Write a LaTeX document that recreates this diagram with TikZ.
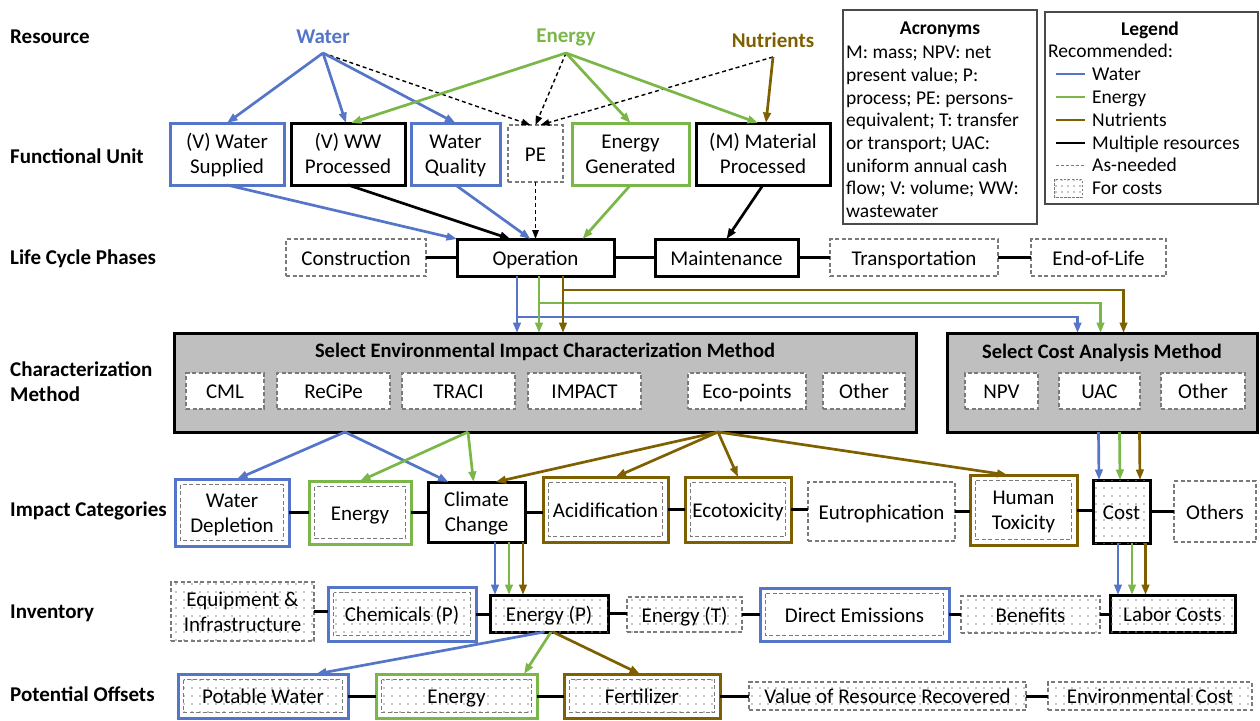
\documentclass[tikz,border=0pt]{standalone}
\usepackage{fontspec}
\setmainfont{Carlito}
\usetikzlibrary{arrows.meta,patterns.meta}

\definecolor{cblue}{HTML}{5575C8}
\definecolor{cgreen}{HTML}{7AB648}
\definecolor{cbrown}{HTML}{7F6000}
\definecolor{cgrayfill}{HTML}{BFBFBF}
\definecolor{cdash}{HTML}{7A7A7A}
\definecolor{cdot}{HTML}{8C8C8C}
\definecolor{cframe}{HTML}{4A4A4A}

% box from its corners: name, x1, y1, x2, y2, style, text
\newcommand\putbox[7]{%
  \node[#6, minimum width={#4-#2}, minimum height={#5-#3}] (#1)
    at ({(#2+#4)/2},{(#3+#5)/2}) {#7};}
% two-line box text with fixed line heights
\newcommand\twolines[2]{\rule{0pt}{20pt}#1\\#2\rule[-6pt]{0pt}{6pt}}

\begin{document}
\begin{tikzpicture}[x=1pt, y=-1pt,
  base/.style={rectangle, fill=white, align=center, inner sep=1pt, outer sep=0pt,
    font=\fontsize{21}{25}\selectfont},
  sl/.style={text height=17pt, text depth=2pt},
  thickbox/.style={base, draw, line width=3pt},
  bbox/.style={thickbox, draw=cblue},
  gbox/.style={thickbox, draw=cgreen},
  nbox/.style={thickbox, draw=cbrown},
  kbox/.style={thickbox, draw=black},
  dbox/.style={base, draw=cdash, line width=1.4pt, dash pattern=on 4pt off 2.5pt},
  mbox/.style={base, draw=black, line width=3pt, fill=cgrayfill},
  dots/.style={postaction={pattern={Dots[distance=8pt,radius=0.95pt]}, pattern color=cdot}},
  inset/.style={path picture={\draw[cdash, line width=1.4pt, dash pattern=on 4pt off 2.5pt]
    ([shift={(5.5,5.5)}]path picture bounding box.north west) rectangle
    ([shift={(-5.5,-5.5)}]path picture bounding box.south east);}},
  insetdots/.style={path picture={\draw[cdash, line width=1.4pt, dash pattern=on 4pt off 2.5pt,
    pattern={Dots[distance=8pt,radius=0.95pt]}, pattern color=cdot]
    ([shift={(5.5,5.5)}]path picture bounding box.north west) rectangle
    ([shift={(-5.5,-5.5)}]path picture bounding box.south east);}},
  frame/.style={rectangle, draw=cframe, line width=1.7pt, fill=white, inner sep=0pt, outer sep=0pt},
  rowlab/.style={anchor=west, align=left, inner sep=0pt, font=\bfseries\fontsize{21}{25}\selectfont},
  reslab/.style={inner sep=0pt, font=\bfseries\fontsize{21}{25}\selectfont},
  title/.style={inner sep=0pt, font=\bfseries\fontsize{20.5}{25}\selectfont},
  smalltitle/.style={inner sep=0pt, font=\bfseries\fontsize{19.5}{22.6}\selectfont},
  smalltext/.style={inner sep=0pt, align=left, font=\fontsize{19.5}{22.7}\selectfont},
  arr/.style={line width=2.7pt, -{Triangle[length=10.5pt,width=7.5pt]}},
  barr/.style={arr, draw=cblue},
  garr/.style={arr, draw=cgreen},
  narr/.style={arr, draw=cbrown},
  karr/.style={arr, draw=black},
  darr/.style={line width=1.4pt, dash pattern=on 4pt off 3pt, draw=black,
    -{Triangle[length=9pt,width=6.5pt]}},
  link/.style={line width=3pt, draw=black}
]
\useasboundingbox (0,0) rectangle (1260,720);

% ---------- row headings ----------
\node[rowlab] (hres) at (10,37) {Resource};
\node[rowlab] (hfu)  at (10,156) {Functional Unit};
\node[rowlab] (hlcp) at (10,259) {Life Cycle Phases};
\node[rowlab] (hcm)  at (10,382) {Characterization\\Method};
\node[rowlab] (hic)  at (10,511) {Impact Categories};
\node[rowlab] (hinv) at (10,613) {Inventory};
\node[rowlab] (hoff) at (10,694) {Potential Offsets};

% ---------- resources ----------
\node[reslab, text=cblue]  (rwat) at (323,37) {Water};
\node[reslab, text=cgreen] (rene) at (566,37) {Energy};
\node[reslab, text=cbrown] (rnut) at (773,40) {Nutrients};
\coordinate (swat) at (323,53);
\coordinate (sene) at (566,53);
\coordinate (snut) at (773,57);

% ---------- acronyms and legend ----------
\putbox{acr}{843}{10}{1037}{224}{frame}{}
\node[smalltitle] (acrt) at (940,30) {Acronyms};
\node[smalltext, anchor=north west] (acrb) at (846,46)
  {M: mass; NPV: net\\present value; P:\\process; PE: persons-\\equivalent; T: transfer\\or transport; UAC:\\uniform annual cash\\flow; V: volume; WW:\\wastewater};

\putbox{leg}{1045}{12}{1258}{204}{frame}{}
\node[smalltitle] (legt) at (1150,30) {Legend};
\node[smalltext, anchor=base west] (legr) at (1048,57) {Recommended:};
\draw[line width=2.7pt, cblue]  (1056,74) -- (1085,74);
\draw[line width=2.7pt, cgreen] (1056,97) -- (1085,97);
\draw[line width=2.7pt, cbrown] (1056,120) -- (1085,120);
\draw[line width=2.7pt, black]  (1056,143) -- (1085,143);
\draw[line width=1pt, cdash, dash pattern=on 3pt off 2pt] (1056,165) -- (1085,165);
\draw[cdash, line width=1pt, dash pattern=on 2.5pt off 1.5pt,
  pattern={Dots[distance=6pt,radius=0.8pt]}, pattern color=cdot] (1054,179) rectangle (1082,197);
\node[smalltext, anchor=base west] (lwat) at (1092,80) {Water};
\node[smalltext, anchor=base west] (lene) at (1092,103) {Energy};
\node[smalltext, anchor=base west] (lnut) at (1092,126) {Nutrients};
\node[smalltext, anchor=base west] (lmul) at (1092,149) {Multiple resources};
\node[smalltext, anchor=base west] (lasn) at (1092,171) {As-needed};
\node[smalltext, anchor=base west] (lcst) at (1092,194) {For costs};

% ---------- functional units ----------
\putbox{wsup}{170}{123}{284}{185}{bbox}{\twolines{(V) Water}{Supplied}}
\putbox{wwp}{291}{123}{405}{185}{kbox}{\twolines{(V) WW}{Processed}}
\putbox{wq}{411}{123}{500}{185}{bbox}{\twolines{Water}{Quality}}
\putbox{pe}{508}{125}{563}{182}{dbox,sl}{PE}
\putbox{egen}{572}{123}{689}{185}{gbox}{\twolines{Energy}{Generated}}
\putbox{matp}{696}{123}{830}{185}{kbox}{\twolines{(M) Material}{Processed}}

% ---------- life cycle phases ----------
\putbox{cons}{286}{239}{426}{276}{dbox,sl}{Construction}
\putbox{op}{457}{239}{614}{276}{kbox,sl}{Operation}
\putbox{mnt}{655}{239}{798}{276}{kbox,sl}{Maintenance}
\putbox{trans}{830}{239}{998}{276}{dbox,sl}{Transportation}
\putbox{eol}{1031}{239}{1166}{276}{dbox,sl}{End-of-Life}

% ---------- characterization methods ----------
\putbox{env}{174}{333}{916}{432}{mbox}{}
\putbox{cmeth}{947}{333}{1257}{432}{mbox}{}
\node[title] (envt) at (545,352) {Select Environmental Impact Characterization Method};
\node[title] (cmt) at (1102,353) {Select Cost Analysis Method};
\putbox{cml}{186}{373}{264}{409}{dbox,sl}{CML}
\putbox{recipe}{277}{373}{390}{409}{dbox,sl}{ReCiPe}
\putbox{traci}{402}{373}{515}{409}{dbox,sl}{TRACI}
\putbox{impact}{528}{373}{641}{409}{dbox,sl}{IMPACT}
\putbox{ecop}{688}{373}{806}{409}{dbox,sl}{Eco-points}
\putbox{othe}{823}{373}{905}{409}{dbox,sl}{Other}
\putbox{npv}{965}{373}{1038}{409}{dbox,sl}{NPV}
\putbox{uac}{1059}{373}{1140}{409}{dbox,sl}{UAC}
\putbox{othc}{1161}{373}{1245}{409}{dbox,sl}{Other}

% ---------- impact categories ----------
\putbox{wdep}{175}{479}{289}{546}{bbox,inset}{\twolines{Water}{Depletion}}
\putbox{ien}{309}{481}{411}{544}{gbox,inset,sl}{Energy}
\putbox{cc}{428}{482}{525}{542}{kbox}{\twolines{Climate}{Change}}
\putbox{acid}{543}{477}{668}{542}{nbox,inset,sl}{Acidification}
\putbox{ecot}{685}{477}{791}{542}{nbox,inset,sl}{Ecotoxicity}
\putbox{eut}{808}{482}{955}{541}{dbox,sl}{Eutrophication}
\putbox{htox}{970}{475}{1077}{545}{nbox,inset}{\twolines{Human}{Toxicity}}
\putbox{cst}{1093}{480}{1150}{543}{kbox,dots,sl}{Cost}
\putbox{othi}{1174}{481}{1256}{542}{dbox,sl}{Others}

% ---------- inventory ----------
\putbox{equip}{171}{582}{314}{641}{dbox,dots}{\twolines{Equipment \&}{Infrastructure}}
\putbox{chem}{328}{587}{476}{641}{bbox,insetdots,sl}{Chemicals (P)}
\putbox{enp}{490}{595}{608}{632}{kbox,dots,sl}{Energy (P)}
\putbox{ent}{627}{597}{742}{632}{dbox,dots,sl}{Energy (T)}
\putbox{dem}{760}{588}{949}{641}{bbox,inset,sl}{Direct Emissions}
\putbox{ben}{961}{596}{1100}{633}{dbox,dots,sl}{Benefits}
\putbox{lab}{1110}{595}{1235}{632}{kbox,dots,sl}{Labor Costs}

% ---------- potential offsets ----------
\putbox{pw}{178}{674}{348}{718}{bbox,insetdots,sl}{Potable Water}
\putbox{oen}{376}{674}{537}{718}{gbox,insetdots,sl}{Energy}
\putbox{fert}{564}{674}{720}{718}{nbox,insetdots,sl}{Fertilizer}
\putbox{vrr}{749}{682}{1026}{710}{dbox,dots,sl}{Value of Resource Recovered}
\putbox{envc}{1048}{682}{1252}{710}{dbox,dots,sl}{Environmental Cost}

% ---------- links along each row ----------
\foreach \a/\b in {cons/op, op/mnt, mnt/trans, trans/eol,
                   wdep/ien, ien/cc, cc/acid, acid/ecot, ecot/eut, eut/htox, htox/cst, cst/othi,
                   equip/chem, chem/enp, enp/ent, ent/dem, dem/ben, ben/lab,
                   pw/oen, oen/fert, fert/vrr, vrr/envc}
  \draw[link] (\a.east) -- (\a.east -| \b.west);

% ---------- resources to functional units ----------
\draw[darr] (swat) -- ([xshift=-5]pe.north);
\draw[darr] (sene) -- (pe.north);
\draw[darr] (snut) -- ([xshift=5]pe.north);
\draw[barr] (swat) -- (wsup.north);
\draw[barr] (swat) -- ([xshift=-2]wwp.north);
\draw[barr] (swat) -- (wq.north);
\draw[garr] (sene) -- ([xshift=3]wwp.north);
\draw[garr] (sene) -- (egen.north);
\draw[garr] (sene) -- ([xshift=-5]matp.north);
\draw[narr] (snut) -- ([xshift=3]matp.north);

% ---------- functional units to phases ----------
\draw[barr] (wsup.south) -- (op.north west);
\draw[karr] (wwp.south) -- ([xshift=-25]op.north);
\draw[barr] (wq.south) -- ([xshift=-5]op.north);
\draw[darr] (pe.south) -- (op.north);
\draw[garr] (egen.south) -- ([xshift=47]op.north);
\draw[karr] (matp.south) -- (mnt.north);

% ---------- operation to the methods ----------
\draw[narr] ([xshift=27.5]op.south) -- ++(0,14) -| ([xshift=21.5]cmeth.north);
\draw[garr] ([xshift=3.5]op.south) -- ++(0,27) -| ([xshift=-1.5]cmeth.north);
\draw[barr] ([xshift=-18.5]op.south) -- ++(0,41) -| ([xshift=-24.5]cmeth.north);
\draw[barr] ([xshift=-18.5]op.south) -- ([xshift=-28]env.north);
\draw[garr] ([xshift=3.5]op.south) -- ([xshift=-6]env.north);
\draw[narr] ([xshift=27.5]op.south) -- ([xshift=18]env.north);

% ---------- methods to impact categories ----------
\draw[barr] ([xshift=-200]env.south) -- ([xshift=5]wdep.north);
\draw[barr] ([xshift=-200]env.south) -- ([xshift=-28]cc.north);
\draw[garr] ([xshift=-77]env.south) -- (ien.north);
\draw[garr] ([xshift=-77]env.south) -- ([xshift=-3]cc.north);
\draw[narr] ([xshift=173]env.south) -- ([xshift=19]cc.north);
\draw[narr] ([xshift=173]env.south) -- ([xshift=10]acid.north);
\draw[narr] ([xshift=173]env.south) -- (ecot.north);
\draw[narr] ([xshift=173]env.south) -- ([xshift=-16]htox.north);
\draw[barr] ([xshift=-3.5]cmeth.south) -- ([xshift=-22.5]cst.north);
\draw[garr] ([xshift=17.5]cmeth.south) -- ([xshift=-1.5]cst.north);
\draw[narr] ([xshift=37.5]cmeth.south) -- ([xshift=18.5]cst.north);

% ---------- impact categories to inventory ----------
\draw[barr] ([xshift=18.5]cc.south) -- ([xshift=-54]enp.north);
\draw[garr] ([xshift=32.5]cc.south) -- ([xshift=-40]enp.north);
\draw[narr] ([xshift=46.5]cc.south) -- ([xshift=-26]enp.north);
\draw[barr] ([xshift=-3.5]cst.south) -- ([xshift=-54.5]lab.north);
\draw[garr] ([xshift=10.5]cst.south) -- ([xshift=-40.5]lab.north);
\draw[narr] ([xshift=24]cst.south) -- ([xshift=-27]lab.north);

% ---------- inventory to offsets ----------
\draw[barr] ([xshift=-5]enp.south) -- ([xshift=53]pw.north);
\draw[garr] ([xshift=2]enp.south) -- ([xshift=67.5]oen.north);
\draw[narr] ([xshift=4]enp.south) -- ([xshift=-2]fert.north);
\end{tikzpicture}
\end{document}
